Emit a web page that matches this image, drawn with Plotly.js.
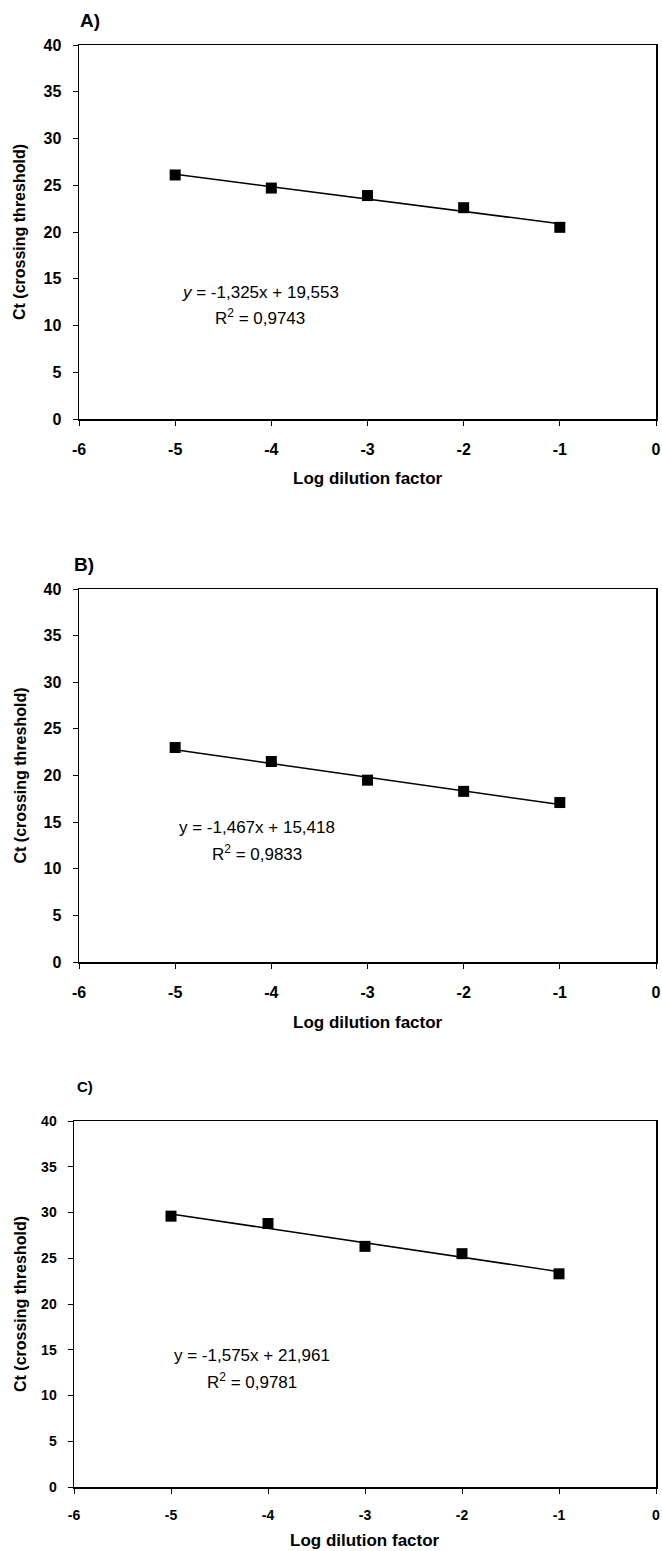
<!DOCTYPE html>
<html>
<head>
<meta charset="utf-8">
<script src="https://cdn.plot.ly/plotly-3.0.1.min.js"></script>
<style>html,body{margin:0;padding:0;background:#fff;}#chart{width:662px;height:1551px;}</style>
</head>
<body>
<div id="chart"></div>
<script>
// ---- data ----
const logDilution = [-5, -4, -3, -2, -1];
const ctA = [26.1, 24.7, 23.9, 22.6, 20.5];
const ctB = [23.0, 21.5, 19.5, 18.3, 17.1];
const ctC = [29.6, 28.8, 26.3, 25.5, 23.3];
const slopes = [-1.325, -1.467, -1.575];
const intercepts = [19.553, 15.418, 21.961];
const eqTexts = ["<i>y</i> = -1,325x + 19,553", "y = -1,467x + 15,418", "y = -1,575x + 21,961"];
const r2Texts = ["R<sup>2</sup> = 0,9743", "R<sup>2</sup> = 0,9833", "R<sup>2</sup> = 0,9781"];
const panelLabels = ["A)", "B)", "C)"];
const xTickVals = [-6, -5, -4, -3, -2, -1, 0];
const yTickVals = [0, 5, 10, 15, 20, 25, 30, 35, 40];
const xTitle = "Log dilution factor";
const yTitle = "Ct (crossing threshold)";

// ---- layout geometry (pixels) ----
const W = 662, H = 1551;
const panels = [
  {ct: ctA, left: 79, right: 656, top: 45, bottom: 419, tickSize: 16,
   label: {x: 78, y: 21, size: 19}, eq: {x: 260, y: 292}, r2: {x: 260, y: 317}, xt: 479},
  {ct: ctB, left: 79, right: 656, top: 589, bottom: 962, tickSize: 16,
   label: {x: 72, y: 564, size: 19}, eq: {x: 257, y: 827}, r2: {x: 257, y: 853}, xt: 1022},
  {ct: ctC, left: 74, right: 656, top: 1121, bottom: 1487, tickSize: 14,
   label: {x: 75, y: 1086, size: 15}, eq: {x: 252, y: 1355}, r2: {x: 252, y: 1381}, xt: 1540}
];
const px = v => v / W;
const py = v => 1 - v / H;
const bold = v => "<b>" + v + "</b>";

const traces = [];
const layout = {
  width: W, height: H,
  margin: {l: 0, r: 0, t: 0, b: 0},
  paper_bgcolor: "#fff", plot_bgcolor: "#fff",
  showlegend: false,
  font: {family: "Liberation Sans, Arial, sans-serif", color: "#000"},
  annotations: []
};

panels.forEach((p, i) => {
  const n = i === 0 ? "" : String(i + 1);
  const xa = "xaxis" + n, ya = "yaxis" + n;
  const xr = "x" + n, yr = "y" + n;
  // trendline from fitted equation
  const lineX = [logDilution[0], logDilution[logDilution.length - 1]];
  const lineY = lineX.map(x => slopes[i] * x + intercepts[i]);
  traces.push({
    x: lineX, y: lineY, xaxis: xr, yaxis: yr, mode: "lines",
    line: {color: "#000", width: 1.5}, hoverinfo: "skip"
  });
  traces.push({
    x: logDilution, y: p.ct, xaxis: xr, yaxis: yr, mode: "markers",
    marker: {symbol: "square", size: 11, color: "#000"}
  });
  const tf = {family: "Liberation Sans, Arial, sans-serif", size: p.tickSize, color: "#000", weight: "bold"};
  layout[xa] = {
    domain: [px(p.left), px(p.right)], anchor: yr,
    range: [-6, 0], tickmode: "array", tickvals: xTickVals, ticktext: xTickVals.map(bold),
    showgrid: false, zeroline: false,
    showline: true, mirror: true, linecolor: "#000", linewidth: 1.5,
    ticks: "outside", ticklen: 5, tickcolor: "#000", tickwidth: 1,
    ticklabelstandoff: 10, tickfont: tf
  };
  layout[ya] = {
    domain: [py(p.bottom), py(p.top)], anchor: xr,
    range: [0, 40], tickmode: "array", tickvals: yTickVals, ticktext: yTickVals.map(bold),
    showgrid: false, zeroline: false,
    showline: true, mirror: true, linecolor: "#000", linewidth: 1.5,
    ticks: "outside", ticklen: 5, tickcolor: "#000", tickwidth: 1,
    ticklabelstandoff: 8, tickfont: tf
  };
  const A = layout.annotations;
  A.push({xref: "paper", yref: "paper", x: px(p.label.x), y: py(p.label.y), xanchor: "left", yanchor: "middle",
    text: bold(panelLabels[i]), showarrow: false, font: {size: p.label.size, color: "#000"}});
  A.push({xref: "paper", yref: "paper", x: px((p.left + p.right) / 2), y: py(p.xt), xanchor: "center", yanchor: "middle",
    text: bold(xTitle), showarrow: false, font: {size: 17, color: "#000"}});
  A.push({xref: "paper", yref: "paper", x: px(20), y: py((p.top + p.bottom) / 2), xanchor: "center", yanchor: "middle",
    text: bold(yTitle), textangle: -90, showarrow: false, font: {size: 16, color: "#000"}});
  A.push({xref: "paper", yref: "paper", x: px(p.eq.x), y: py(p.eq.y), xanchor: "center", yanchor: "middle",
    text: eqTexts[i], showarrow: false, font: {size: 17, color: "#000"}});
  A.push({xref: "paper", yref: "paper", x: px(p.r2.x), y: py(p.r2.y), xanchor: "center", yanchor: "middle",
    text: r2Texts[i], showarrow: false, font: {size: 17, color: "#000"}});
});

Plotly.newPlot("chart", traces, layout, {staticPlot: true, displayModeBar: false});
</script>
</body>
</html>
